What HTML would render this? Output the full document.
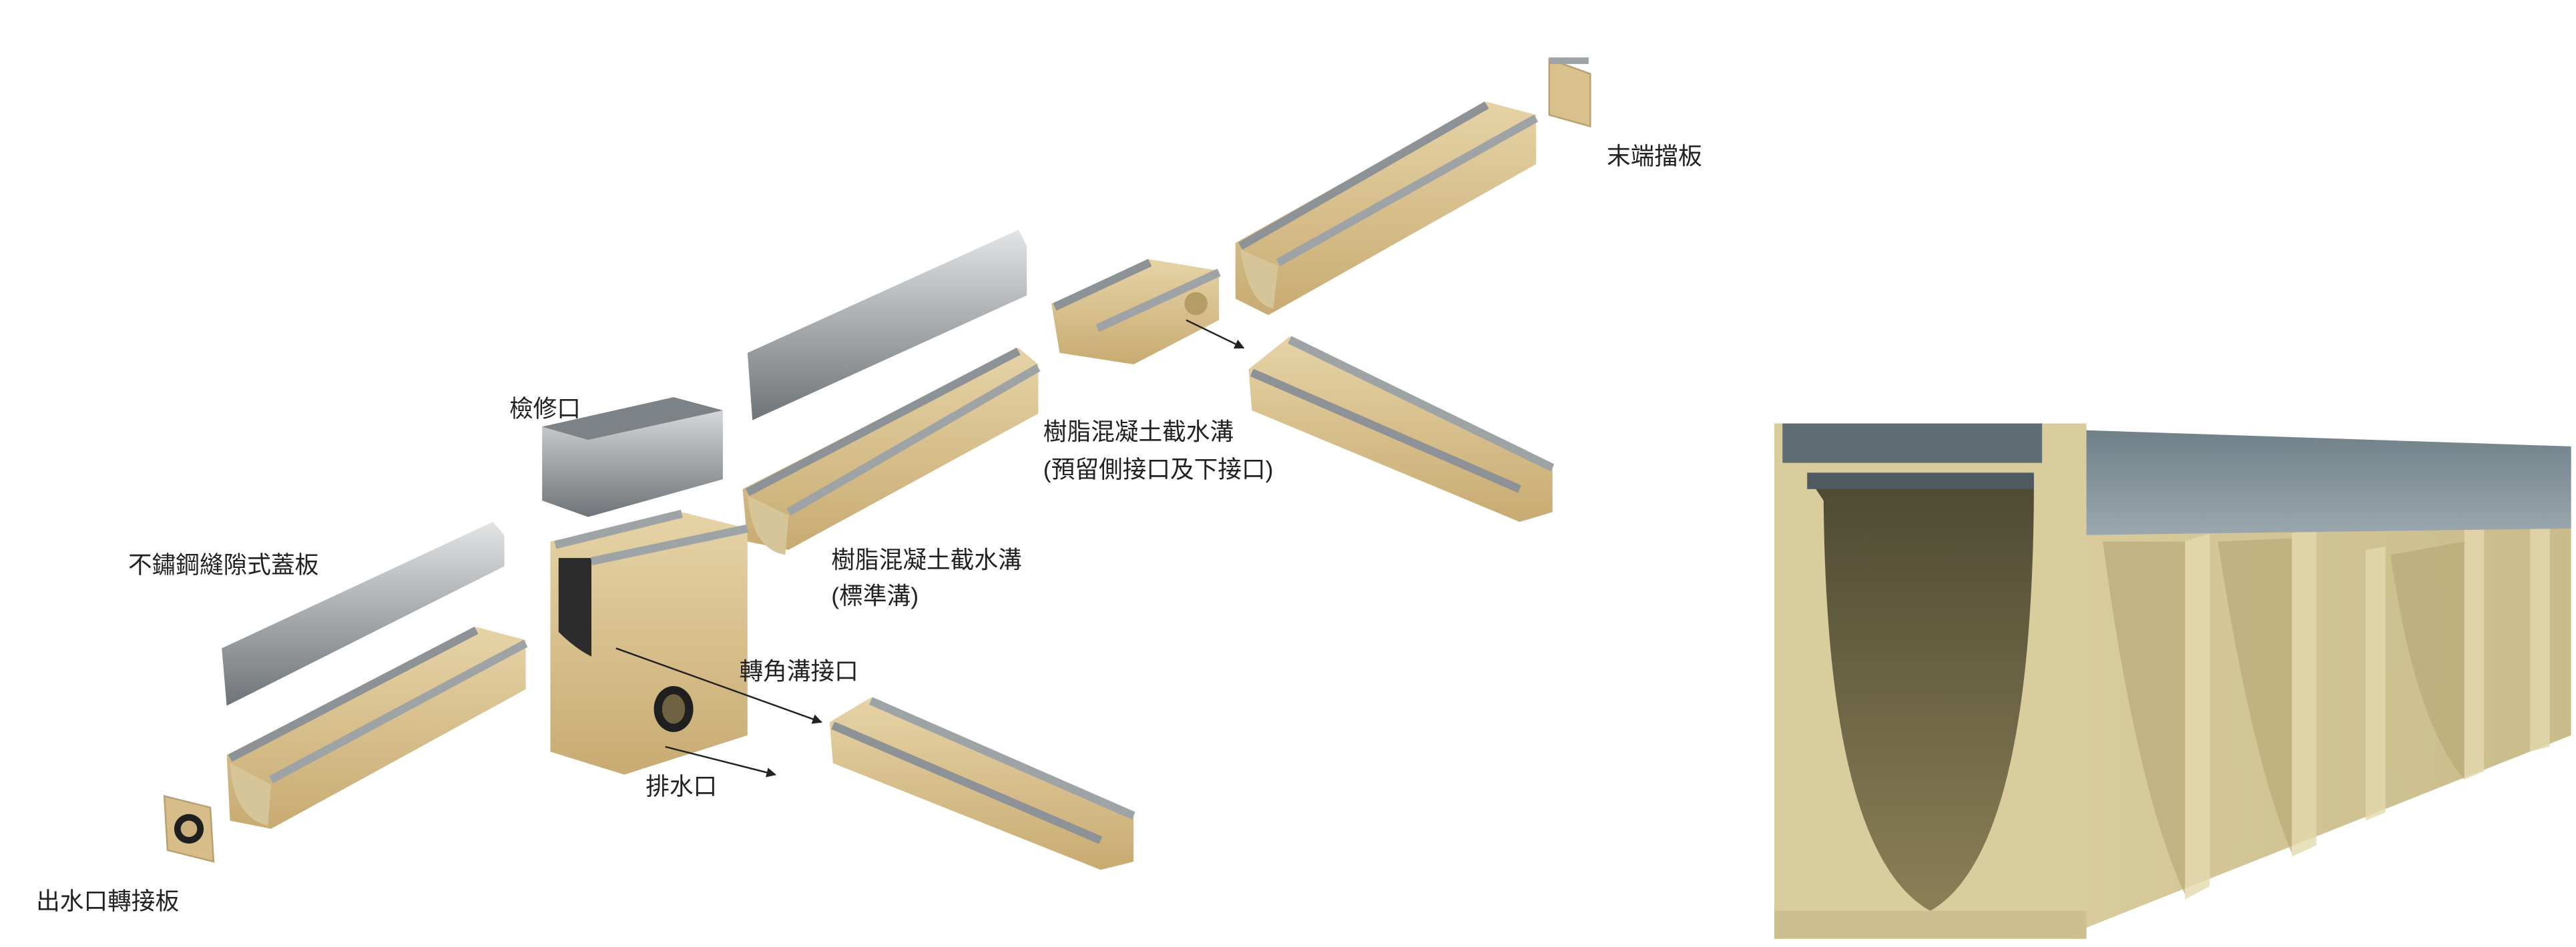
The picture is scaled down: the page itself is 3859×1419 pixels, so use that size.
<!DOCTYPE html>
<html><head><meta charset="utf-8"><style>
html,body{margin:0;padding:0;background:#fff;}
svg{display:block;}
text{font-family:"Liberation Sans","Noto Sans CJK TC",sans-serif;fill:#222;font-size:14.5px;}
</style></head><body>
<svg width="3859" height="1419" viewBox="0 0 1568 577" preserveAspectRatio="none" xmlns="http://www.w3.org/2000/svg">
<defs>
<linearGradient id="st" x1="0" y1="0" x2="0" y2="1"><stop offset="0" stop-color="#e2e4e6"/><stop offset="0.5" stop-color="#a7abae"/><stop offset="1" stop-color="#6f7478"/></linearGradient>
<linearGradient id="tan" x1="0" y1="0" x2="0" y2="1"><stop offset="0" stop-color="#e6d3a6"/><stop offset="1" stop-color="#c8ab72"/></linearGradient>
<linearGradient id="cov" x1="0" y1="0" x2="0" y2="1"><stop offset="0" stop-color="#6f8088"/><stop offset="1" stop-color="#9aa8ae"/></linearGradient>
<linearGradient id="inner" x1="0" y1="0" x2="0" y2="1"><stop offset="0" stop-color="#4d4a32"/><stop offset="1" stop-color="#8b7f57"/></linearGradient>
<linearGradient id="side" x1="0" y1="0" x2="1" y2="0"><stop offset="0" stop-color="#d8cb9c"/><stop offset="1" stop-color="#c9bb8a"/></linearGradient>
</defs>
<marker id="ah" viewBox="0 0 10 10" refX="9" refY="5" markerWidth="6" markerHeight="6" orient="auto"><path d="M0,0L10,5L0,10z" fill="#222"/></marker>

<!-- A top-right channel -->
<polygon points="752,148 905,62 935,70 935,100 772,192 752,182" fill="url(#tan)"/>
<line x1="755" y1="150" x2="905" y2="64" stroke="#8d9296" stroke-width="5"/>
<line x1="778" y1="160" x2="935" y2="72" stroke="#9ea3a6" stroke-width="5"/>
<path d="M755,152 Q760,185 775,188 L778,162z" fill="#d7c59a"/>
<polygon points="943,36 968,45 968,77 943,70" fill="#d9c18e" stroke="#b9a070"/>
<rect x="943" y="35" width="24" height="4" fill="#9ea3a6"/>

<!-- B short channel -->
<polygon points="640,185 700,158 742,165 742,195 690,222 645,215" fill="url(#tan)"/>
<line x1="642" y1="187" x2="700" y2="160" stroke="#8d9296" stroke-width="5"/>
<line x1="668" y1="200" x2="742" y2="166" stroke="#9ea3a6" stroke-width="5"/>
<circle cx="728" cy="185" r="7" fill="#b59b66"/>

<!-- C -->
<polygon points="760,225 785,205 945,283 945,312 925,318 762,250" fill="url(#tan)"/>
<line x1="785" y1="207" x2="945" y2="285" stroke="#9ea3a6" stroke-width="5"/>
<line x1="762" y1="227" x2="925" y2="298" stroke="#8d9296" stroke-width="5"/>

<!-- E middle cover -->
<polygon points="455,215 620,140 625,150 625,180 458,256" fill="url(#st)"/>
<!-- D -->
<polygon points="452,298 620,212 632,222 632,252 480,335 455,330" fill="url(#tan)"/>
<line x1="455" y1="300" x2="620" y2="214" stroke="#8d9296" stroke-width="5"/>
<line x1="480" y1="312" x2="632" y2="224" stroke="#9ea3a6" stroke-width="5"/>
<path d="M455,302 Q458,335 478,338 L480,314z" fill="#d7c59a"/>

<!-- F inspection box -->
<polygon points="330,260 410,242 440,250 440,292 358,315 330,305" fill="url(#st)"/>
<polygon points="330,260 410,242 440,250 358,268" fill="#7d8286"/>
<!-- G catch basin -->
<polygon points="335,330 415,312 455,322 455,448 380,472 335,458" fill="url(#tan)"/>
<path d="M340,340 L360,340 L360,400 Q350,395 340,385z" fill="#2c2c2c"/>
<line x1="338" y1="332" x2="415" y2="313" stroke="#9ea3a6" stroke-width="5"/>
<line x1="360" y1="342" x2="455" y2="322" stroke="#9ea3a6" stroke-width="5"/>
<ellipse cx="410" cy="432" rx="12" ry="14" fill="#1f1f1f"/>
<ellipse cx="410" cy="432" rx="7" ry="9" fill="#6f6243"/>

<!-- H left cover -->
<polygon points="135,395 300,318 307,326 307,345 138,430" fill="url(#st)"/>
<!-- I -->
<polygon points="138,460 290,382 320,390 320,420 165,505 140,500" fill="url(#tan)"/>
<line x1="140" y1="462" x2="290" y2="384" stroke="#8d9296" stroke-width="5"/>
<line x1="165" y1="475" x2="320" y2="392" stroke="#9ea3a6" stroke-width="5"/>
<path d="M140,465 Q142,498 163,503 L165,478z" fill="#d7c59a"/>
<polygon points="100,485 128,492 130,525 102,518" fill="#d6bd8a" stroke="#b9a070"/>
<circle cx="115" cy="505" r="9" fill="#1f1f1f"/><circle cx="115" cy="505" r="5" fill="#c9b07c"/>

<!-- J -->
<polygon points="505,440 530,425 690,495 690,525 670,530 507,465" fill="url(#tan)"/>
<line x1="530" y1="427" x2="690" y2="497" stroke="#9ea3a6" stroke-width="5"/>
<line x1="507" y1="442" x2="670" y2="512" stroke="#8d9296" stroke-width="5"/>

<line x1="375" y1="395" x2="500" y2="440" stroke="#222" stroke-width="1" marker-end="url(#ah)"/>
<line x1="405" y1="455" x2="472" y2="472" stroke="#222" stroke-width="1" marker-end="url(#ah)"/>
<line x1="722" y1="195" x2="757" y2="212" stroke="#222" stroke-width="1" marker-end="url(#ah)"/>

<text x="978" y="100">末端擋板</text>
<text x="310" y="254">檢修口</text>
<text x="635" y="268">樹脂混凝土截水溝</text>
<text x="635" y="291">(預留側接口及下接口)</text>
<text x="78" y="349">不鏽鋼縫隙式蓋板</text>
<text x="506" y="346">樹脂混凝土截水溝</text>
<text x="506" y="368">(標準溝)</text>
<text x="450" y="414">轉角溝接口</text>
<text x="393" y="484">排水口</text>
<text x="22" y="554">出水口轉接板</text>

<polygon points="1268,262 1565,275 1565,448 1268,566" fill="url(#side)"/>
<g fill="#e4d9ae" opacity="0.8">
<polygon points="1330,330 1345,325 1345,540 1330,548"/>
<polygon points="1395,325 1410,322 1410,515 1395,522"/>
<polygon points="1440,335 1452,333 1452,495 1440,500"/>
<polygon points="1500,322 1512,320 1512,470 1500,475"/>
<polygon points="1540,318 1552,318 1552,455 1540,458"/>
</g>
<g fill="#b9a978" opacity="0.7">
<path d="M1280,330 Q1300,480 1330,545 L1330,330z"/>
<path d="M1350,330 Q1370,460 1395,520 L1395,328z"/>
<path d="M1455,338 Q1470,440 1500,475 L1500,330z"/>
</g>
<polygon points="1265,262 1565,272 1565,322 1268,326" fill="url(#cov)"/>
<rect x="1080" y="258" width="190" height="314" fill="#d9cc9d"/>
<rect x="1085" y="258" width="158" height="24" fill="#5f6c72"/>
<path d="M1100,290 L1238,290 L1238,305 Q1236,520 1175,555 Q1112,520 1110,305z" fill="url(#inner)"/>
<rect x="1100" y="288" width="138" height="10" fill="#4e5a60"/>
<rect x="1080" y="555" width="190" height="17" fill="#cdbf8f"/>
</svg>
</body></html>
